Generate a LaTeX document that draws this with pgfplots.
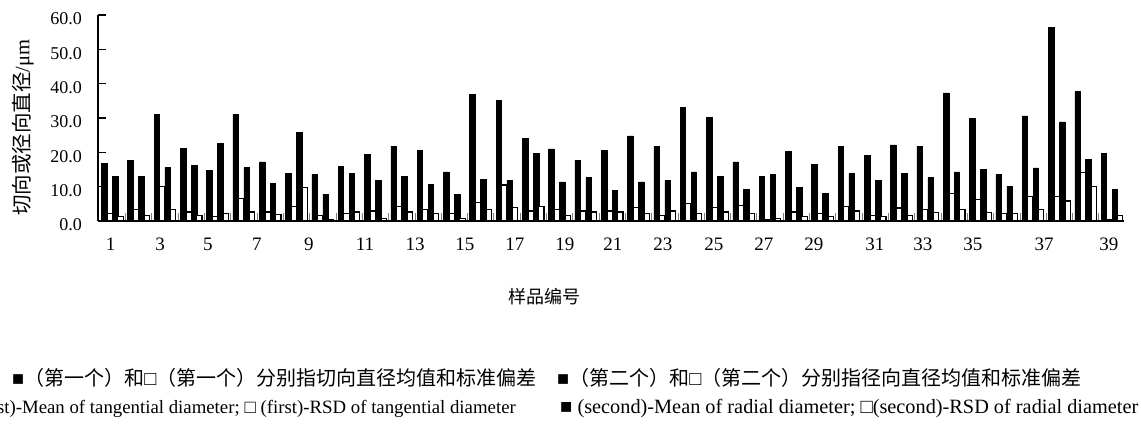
\documentclass[border=0pt]{standalone}
\usepackage{fontspec}
\setmainfont{Liberation Serif}
\newfontfamily\cjk{Noto Sans CJK SC}
\usepackage{pgfplots}
\pgfplotsset{compat=1.18}
\usepackage{pgfplotstable}

\pgfplotstableread{
g tm ts rm rs
1 16.8 2.2 13.1 1.3
2 17.7 3.4 13.1 1.7
3 31.1 10.0 15.6 3.4
4 21.1 2.6 16.1 1.7
5 14.8 1.3 22.6 2.2
6 31.1 6.6 15.6 2.6
7 17.2 2.6 11.0 2.0
8 13.9 4.2 25.9 9.7
9 13.5 1.7 7.8 0.5
10 16.0 2.2 13.9 2.6
11 19.3 2.9 11.8 0.8
12 21.8 4.2 13.1 2.6
13 20.6 3.4 10.6 2.2
14 14.3 2.2 7.8 0.8
15 36.9 5.3 12.2 3.4
16 35.2 10.5 11.8 4.0
17 24.0 2.9 19.7 4.2
18 21.0 3.4 11.4 1.7
19 17.7 2.9 12.6 2.6
20 20.6 2.9 8.9 2.6
21 24.8 3.9 11.4 2.2
22 21.8 1.7 11.8 2.9
23 33.1 5.1 14.3 2.2
24 30.2 3.9 13.1 2.6
25 17.2 4.5 9.3 2.2
26 13.1 0.3 13.6 0.8
27 20.2 2.6 9.7 1.3
28 16.4 2.2 8.1 1.3
29 21.8 4.2 13.9 2.9
30 19.2 1.6 11.8 1.2
31 22.2 3.8 13.9 1.6
32 21.8 3.3 12.6 2.5
33 37.3 8.1 14.3 3.3
34 29.8 6.3 15.0 2.5
35 13.5 2.1 10.1 2.1
36 30.6 7.1 15.5 3.3
37 56.4 7.1 28.9 5.8
38 37.7 14.2 18.0 10.0
39 19.7 0.3 9.2 1.6
}\data

\begin{document}
\begin{tikzpicture}[x=1bp,y=1bp]
\path[use as bounding box] (0,0) rectangle (1141,424);
\begin{axis}[
  at={(98bp,203bp)}, anchor=south west,
  scale only axis, width=1026bp, height=206bp,
  xmin=0.45, xmax=39.45, ymin=0, ymax=60,
  axis x line*=bottom, axis y line*=left,
  axis line style={line width=1.6bp, black},
  tick align=inside,
  major tick length=8bp,
  ytick={0,10,...,60},
  ytick style={line width=1.4bp, black},
  yticklabel style={/pgf/number format/fixed, /pgf/number format/fixed zerofill,
    /pgf/number format/precision=1, /pgf/number format/assume math mode=true,
    font=\fontsize{18bp}{20bp}\selectfont, inner sep=0pt, anchor=east, xshift=-16bp, yshift=-4bp},
  xtick={1.5,2.5,...,38.5},
  xticklabels={},
  xtick style={gray, line width=1bp},
  extra x ticks={0.93,2.81,4.63,6.49,8.47,10.6,12.5,14.4,16.3,18.2,20.02,21.92,23.86,25.76,27.66,29.98,31.81,33.71,36.41,38.88},
  extra x tick labels={1,3,5,7,9,11,13,15,17,19,21,23,25,27,29,31,33,35,37,39},
  extra x tick style={xtick style={draw=none}, xticklabel style={font=\fontsize{19bp}{21bp}\selectfont, inner sep=0pt, anchor=north, yshift=-17bp}},
]
\addplot[ybar, bar width=0.21, bar shift=-0.315, fill=black, draw=black, line width=0.5bp] table[x=g, y=tm] {\data};
\addplot[ybar, bar width=0.2, bar shift=-0.105, fill=white, draw=black, line width=1.2bp] table[x=g, y=ts] {\data};
\addplot[ybar, bar width=0.21, bar shift=0.1, fill=black, draw=black, line width=0.5bp] table[x=g, y=rm] {\data};
\addplot[ybar, bar width=0.2, bar shift=0.305, fill=white, draw=black, line width=1.2bp] table[x=g, y=rs] {\data};
\end{axis}
% axis titles
\node[rotate=90, inner sep=0pt] at (23,296.5) {\fontsize{20.5bp}{22bp}\selectfont{\cjk 切向或径向直径}/μm};
\node[inner sep=0pt] at (544,127) {\fontsize{18bp}{20bp}\selectfont\cjk 样品编号};
% notes
\node[inner sep=0pt, anchor=base west] at (12,39) {\fontsize{20bp}{22bp}\selectfont ■{\cjk（第一个）和}□{\cjk（第一个）分别指切向直径均值和标准偏差}};
\node[inner sep=0pt, anchor=base west] at (557,39) {\fontsize{20bp}{22bp}\selectfont ■{\cjk（第二个）和}□{\cjk（第二个）分别指径向直径均值和标准偏差}};
\node[inner sep=0pt, anchor=base east] at (516,11) {\fontsize{18.8bp}{22bp}\selectfont ■ (first)-Mean of tangential diameter; □ (first)-RSD of tangential diameter};
\node[inner sep=0pt, anchor=base west] at (560,11) {\fontsize{20.3bp}{22bp}\selectfont ■ (second)-Mean of radial diameter; □(second)-RSD of radial diameter};
\end{tikzpicture}
\end{document}
